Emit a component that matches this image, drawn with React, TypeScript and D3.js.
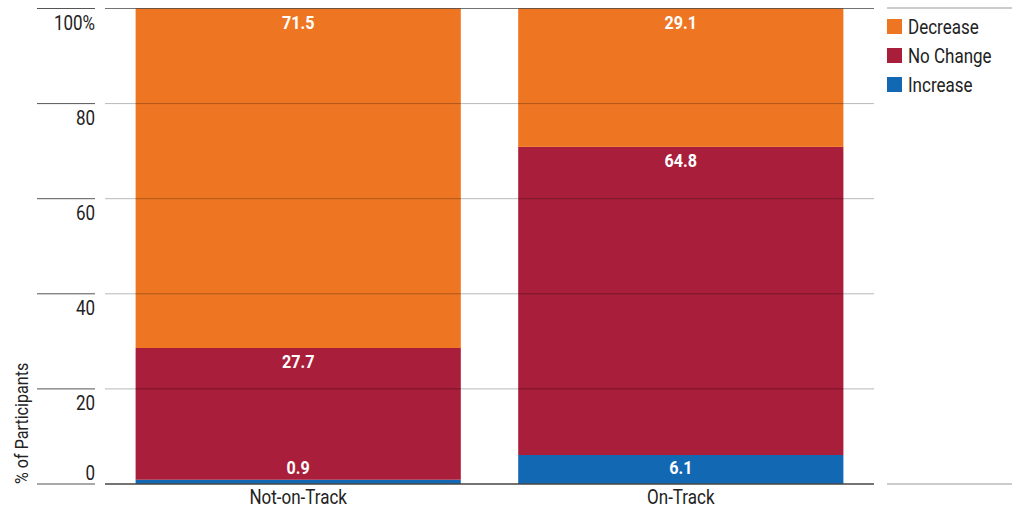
import React from "react";
import * as d3 from "d3";

const categories = ["Not-on-Track", "On-Track"];
const seriesNames = ["Increase", "No Change", "Decrease"];
const increase = [0.9, 6.1];
const noChange = [27.7, 64.8];
const decrease = [71.5, 29.1];
const tickValues = [0, 20, 40, 60, 80, 100];
const tickLabels = ["0", "20", "40", "60", "80", "100%"];
const legendOrder = ["Decrease", "No Change", "Increase"];

const colors: Record<string, string> = {
  Increase: "#1368B3",
  "No Change": "#A91E3A",
  Decrease: "#EE7623",
};

const FONT = "Roboto, 'Noto Sans', sans-serif";
const SQUEEZE = 0.85;

// Text drawn with a horizontal squeeze to give a condensed face.
function CText(props: {
  x: number;
  y: number;
  anchor?: "start" | "middle" | "end";
  size: number;
  bold?: boolean;
  fill?: string;
  rotate?: number;
  children: React.ReactNode;
}) {
  const { x, y, anchor = "start", size, bold, fill = "#222", rotate = 0, children } = props;
  return (
    <g transform={`translate(${x},${y}) rotate(${rotate}) scale(${SQUEEZE},1)`}>
      <text
        textAnchor={anchor}
        fontSize={size}
        fontWeight={bold ? "bold" : "normal"}
        fill={fill}
      >
        {children}
      </text>
    </g>
  );
}

export default function App() {
  const width = 1019;
  const height = 524;
  const plotLeft = 105;
  const plotRight = 874;

  const rows = categories.map((c, i) => ({
    category: c,
    Increase: increase[i],
    "No Change": noChange[i],
    Decrease: decrease[i],
  }));

  const stack = d3.stack<any>().keys(seriesNames);
  const layers = stack(rows);

  const x = d3
    .scaleBand<string>()
    .domain(categories)
    .range([plotLeft, plotRight])
    .paddingInner(0.15)
    .paddingOuter(0.08);

  const y = d3.scaleLinear().domain([0, 100]).range([484, 8.5]);
  const base = y(0);

  return (
    <svg
      width={width}
      height={height}
      style={{ position: "absolute", left: 0, top: 0, background: "#fff" }}
      fontFamily={FONT}
    >
      {/* stacked bars */}
      {layers.map((layer) => (
        <g key={layer.key} fill={colors[layer.key]}>
          {layer.map((d, i) => (
            <rect
              key={i}
              x={x(categories[i])}
              width={x.bandwidth()}
              y={y(Math.min(d[1], 100))}
              height={y(d[0]) - y(Math.min(d[1], 100))}
            />
          ))}
        </g>
      ))}

      {/* horizontal grid lines over the bars */}
      {tickValues
        .filter((t) => t > 0)
        .map((t) => (
          <line
            key={t}
            x1={plotLeft}
            x2={plotRight}
            y1={y(t)}
            y2={y(t)}
            stroke="#000"
            strokeOpacity={t === 100 ? 0.55 : 0.28}
            strokeWidth={1}
          />
        ))}

      {/* left tick marks and labels */}
      {tickValues.map((t, i) => (
        <g key={t}>
          <line x1={37} x2={95} y1={y(t)} y2={y(t)} stroke="#555" strokeWidth={1} />
          <CText x={95} y={t === 0 ? y(t) - 4 : y(t) + 21} anchor="end" size={20}>
            {tickLabels[i]}
          </CText>
        </g>
      ))}

      {/* baseline */}
      <line x1={plotLeft} x2={plotRight} y1={base} y2={base} stroke="#444" strokeWidth={1.5} />

      {/* value labels */}
      {layers.map((layer) =>
        layer.map((d, i) => {
          const top = y(Math.min(d[1], 100));
          const v = d.data[layer.key] as number;
          return (
            <CText
              key={layer.key + i}
              x={(x(categories[i]) as number) + x.bandwidth() / 2}
              y={Math.min(top + 20, base - 10)}
              anchor="middle"
              size={19}
              bold
              fill="#fff"
            >
              {v.toFixed(1)}
            </CText>
          );
        })
      )}

      {/* category labels */}
      {categories.map((c) => (
        <CText key={c} x={(x(c) as number) + x.bandwidth() / 2} y={504} anchor="middle" size={20}>
          {c}
        </CText>
      ))}

      {/* y axis title */}
      <CText x={28} y={base} rotate={-90} size={19}>
        % of Participants
      </CText>

      {/* legend */}
      <line x1={887} x2={1012} y1={8} y2={8} stroke="#ccc" strokeWidth={2} />
      <line x1={887} x2={1012} y1={base} y2={base} stroke="#ccc" strokeWidth={2} />
      {legendOrder.map((name, i) => (
        <g key={name}>
          <rect x={887} y={19 + i * 29} width={15} height={15} fill={colors[name]} />
          <CText x={908} y={34 + i * 29} size={20}>
            {name}
          </CText>
        </g>
      ))}
    </svg>
  );
}
